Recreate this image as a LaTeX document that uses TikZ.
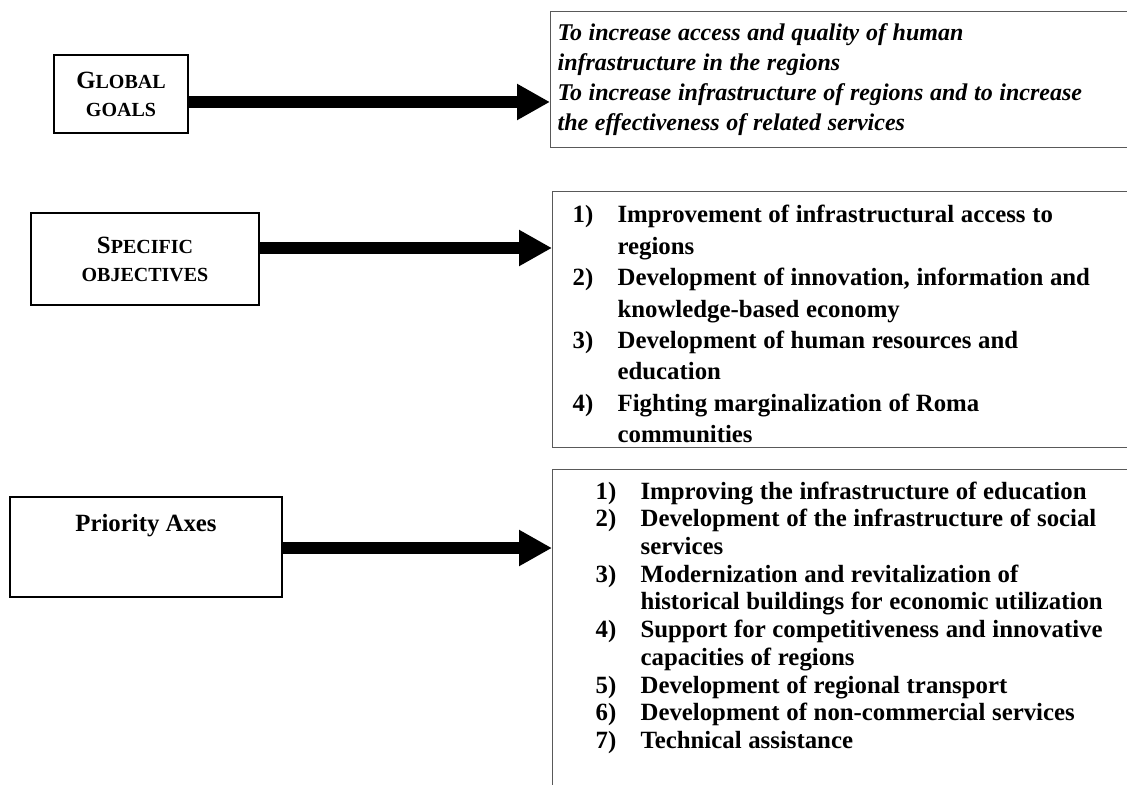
\documentclass[tikz,border=0pt]{standalone}
\usepackage{fontspec}
\setmainfont{Liberation Serif}
\usetikzlibrary{arrows.meta}
\newcommand{\allsc}[1]{{\fontsize{10pt}{11pt}\selectfont #1}}
\newcommand{\fakesc}[2]{#1\allsc{#2}}
\begin{document}
\begin{tikzpicture}
	[
	x=0.5pt, y=-0.5pt,
	every node/.style={draw=black!75, line width=0.6pt, fill=white},
	levelbox/.style={align=center, draw=black, font=\bfseries\fontsize{12.4pt}{14pt}\selectfont},
	listbox/.style={anchor=north west, minimum width=300pt, draw=black!65},
	bigarrow/.style={line width=6pt, -{Triangle[length=16.5pt,width=17pt]}}
	]
		\useasboundingbox (0,0) rectangle (1127,785);
		\clip (0,0) rectangle (1127,785);

		% level boxes
		\node[levelbox, minimum width=67pt, minimum height=39pt] (goals) at (121, 94) {\fakesc{G}{LOBAL}\\ \allsc{GOALS}};
		\node[levelbox, minimum width=114pt, minimum height=46pt] (objectives) at (145, 259) {\fakesc{S}{PECIFIC}\\ \allsc{OBJECTIVES}};
		\node[levelbox, minimum width=136pt, inner ysep=0pt, text height=17pt, text depth=33pt] (axes) at (146, 547) {Priority Axes};

		% content boxes
		\node[listbox, minimum height=68pt, inner xsep=3.5pt, text width=293pt] (goalslist) at (550, 11)
			{\noindent\bfseries\itshape\fontsize{12pt}{15pt}\selectfont
			\begin{tabular}{@{}l@{}}
			To increase access and quality of human\\
			infrastructure in the regions\\
			To increase infrastructure of regions and to increase\\
			the effectiveness of related services
			\end{tabular}};
		\node[listbox, minimum height=128pt, inner xsep=10pt, inner ysep=0pt, text width=280pt] (objectiveslist) at (552, 191)
			{\noindent\bfseries\fontsize{12.4pt}{15.7pt}\selectfont
			\raisebox{-3.5pt}[\height][\depth]{\begin{tabular}{@{}p{22.5pt}@{}l@{}}
			1) & Improvement of infrastructural access to\\
			   & regions\\
			2) & Development of innovation, information and\\
			   & knowledge-based economy\\
			3) & Development of human resources and\\
			   & education\\
			4) & Fighting marginalization of Roma\\
			   & communities
			\end{tabular}}};
		\node[listbox, minimum height=162.5pt, inner xsep=21.5pt, text width=257pt] (axeslist) at (552, 469)
			{\noindent\bfseries\fontsize{12.4pt}{13.85pt}\selectfont
			\begin{tabular}{@{}p{22.5pt}@{}l@{}}
			1) & Improving the infrastructure of education\\
			2) & Development of the infrastructure of social\\
			   & services\\
			3) & Modernization and revitalization of\\
			   & historical buildings for economic utilization\\
			4) & Support for competitiveness and innovative\\
			   & capacities of regions\\
			5) & Development of regional transport\\
			6) & Development of non-commercial services\\
			7) & Technical assistance\\
			   & \mbox{}
			\end{tabular}};

		% arrow heights
		\coordinate (a1) at (0, 102);
		\coordinate (a2) at (0, 248);
		\coordinate (a3) at (0, 548);

		% drawing code
		\draw[bigarrow] (goals.east |- a1) -- (goalslist.west |- a1);
		\draw[bigarrow] (objectives.east |- a2) -- (objectiveslist.west |- a2);
		\draw[bigarrow] (axes.east |- a3) -- (axeslist.west |- a3);
	\end{tikzpicture}
\end{document}
